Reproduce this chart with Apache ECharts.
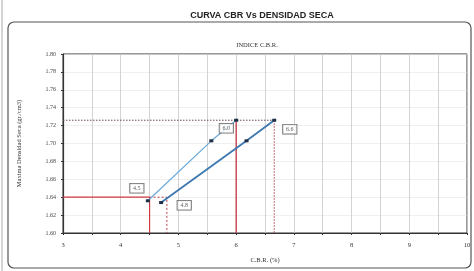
<!DOCTYPE html>
<html><head><meta charset="utf-8">
<script src="https://cdn.jsdelivr.net/npm/echarts@6/dist/echarts.min.js"></script>
<style>html,body{margin:0;padding:0;background:#fff}#c{width:474px;height:271px}</style>
</head><body><div id="c"></div>
<script>
const titleText = 'CURVA CBR Vs DENSIDAD SECA';
const subtitleText = 'INDICE C.B.R.';
const xName = 'C.B.R. (%)';
const yName = 'Maxima Densidad Seca (gr./cm3)';
const xMin = 3, xMax = 10;
const yMin = 1.60, yMax = 1.80;
// CBR curves (x = CBR %, y = dry density)
const curveA = [[4.47, 1.636], [5.57, 1.703], [6.0, 1.726]];
const curveB = [[4.70, 1.634], [6.18, 1.703], [6.66, 1.726]];
// reference lines
const refRed = [[3, 1.64], [4.5, 1.64], [4.5, 1.60]];
const refRedDashed = [[4.5, 1.64], [4.8, 1.64], [4.8, 1.60]];
const refMaxDotted = [[3, 1.726], [6.66, 1.726]];
const refRed60 = [[6.0, 1.726], [6.0, 1.60]];
const refDotted66 = [[6.66, 1.726], [6.66, 1.60]];
// value boxes
const boxTexts = ['4.5', '4.8', '6.0', '6.6'];
const boxX = [4.28, 5.10, 5.83, 6.93];
const boxY = [1.650, 1.631, 1.717, 1.716];

const serif = 'Liberation Serif';
const chart = echarts.init(document.getElementById('c'));
function line(data, color, width, type, z) {
  return { type: 'line', data, symbol: 'none', lineStyle: { color, width, type }, z: z || 2, silent: true, animation: false };
}
chart.setOption({
  animation: false,
  backgroundColor: '#fff',
  title: [
    { text: titleText, left: 257, top: 6, textAlign: 'center',
      textStyle: { fontFamily: 'Liberation Sans', fontSize: 9, fontWeight: 'bold', color: '#222' } },
    { text: subtitleText, left: 252, top: 37, textAlign: 'center',
      textStyle: { fontFamily: serif, fontSize: 6.5, fontWeight: 'normal', color: '#333' } }
  ],
  graphic: [
    { type: 'rect', shape: { x: 8, y: 22, width: 463, height: 246, r: 6 },
      style: { fill: 'none', stroke: '#555', lineWidth: 1.2 }, z: 0 },
    { type: 'line', shape: { x1: 2, y1: 0, x2: 2, y2: 271 }, style: { stroke: '#aaa', lineWidth: 1 } }
  ],
  grid: { left: 63, right: 7, top: 54, bottom: 38, show: true, borderColor: '#333', borderWidth: 1 },
  xAxis: {
    type: 'value', min: xMin, max: xMax, interval: 0.5,
    name: xName, nameLocation: 'middle', nameGap: 24,
    nameTextStyle: { fontFamily: serif, fontSize: 6.5, color: '#333' },
    axisLine: { lineStyle: { color: '#333', width: 1.2 } },
    axisTick: { show: true, length: 2, lineStyle: { color: '#333' } },
    axisLabel: { fontFamily: serif, fontSize: 6.5, color: '#333', margin: 9,
      formatter: v => Number.isInteger(v) ? String(v) : '' },
    splitLine: { show: true, lineStyle: { color: '#c8c8c8', width: 0.8 } }
  },
  yAxis: {
    type: 'value', min: yMin, max: yMax, interval: 0.02,
    name: yName, nameLocation: 'middle', nameGap: 40,
    nameTextStyle: { fontFamily: serif, fontSize: 6.5, color: '#333' },
    axisLine: { show: true, lineStyle: { color: '#333', width: 1.2 } },
    axisTick: { show: true, length: 2, lineStyle: { color: '#333' } },
    axisLabel: { fontFamily: serif, fontSize: 6, color: '#444', margin: 7,
      formatter: v => v.toFixed(2) },
    splitLine: { show: true, lineStyle: { color: '#e4e4e4', width: 0.6 } }
  },
  series: [
    line(refMaxDotted, '#6e4a55', 1, [1.5, 1.5], 3),
    line(refRed, '#d0383f', 1.2, 'solid', 3),
    line(refRedDashed, '#c0404a', 1, [2, 2], 3),
    line(refRed60, '#c02a3a', 1.2, 'solid', 3),
    line(refDotted66, '#b04050', 1, [1.5, 1.5], 3),
    { type: 'line', data: curveA, symbol: 'rect', symbolSize: [4, 3],
      itemStyle: { color: '#1f2f45' }, lineStyle: { color: '#6aa8d8', width: 1.2 }, z: 4 },
    { type: 'line', data: curveB, symbol: 'rect', symbolSize: [4, 3],
      itemStyle: { color: '#1f2f45' }, lineStyle: { color: '#3d78b0', width: 1.8 }, z: 4 },
    { type: 'scatter', symbolSize: 0, z: 6, silent: true,
      data: boxTexts.map((t, i) => ({ value: [boxX[i], boxY[i]], name: t })),
      label: { show: true, position: 'inside', formatter: p => p.name,
        fontFamily: serif, fontSize: 6, color: '#333', backgroundColor: '#fff',
        borderColor: '#444', borderWidth: 0.8, padding: [2, 3, 1, 3] } }
  ]
});
</script></body></html>
